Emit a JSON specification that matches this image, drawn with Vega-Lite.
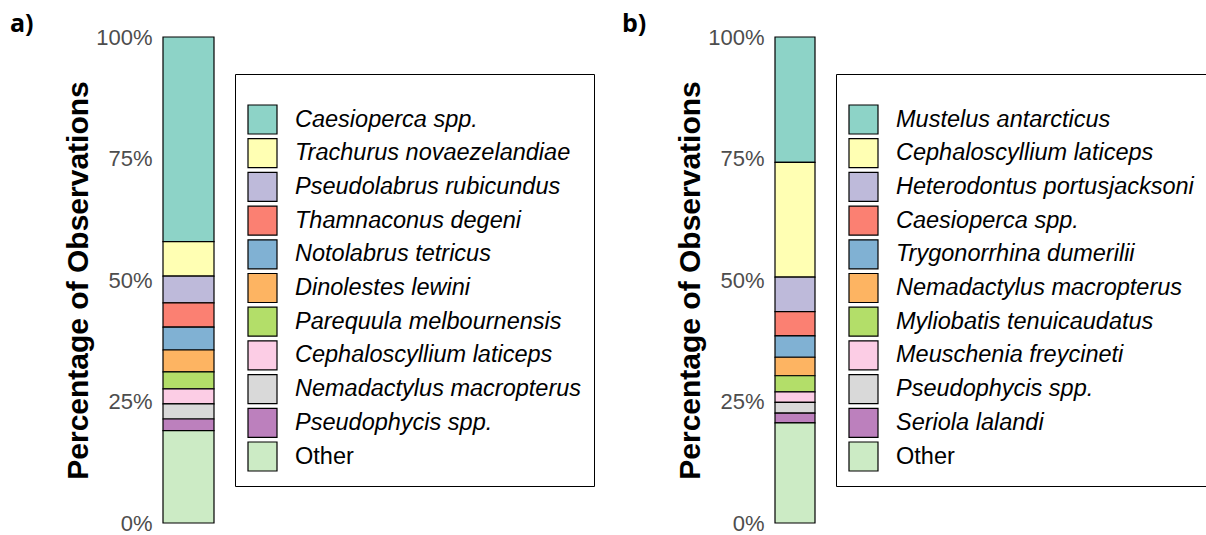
{
  "$schema": "https://vega.github.io/schema/vega-lite/v6.json",
  "padding": {"left": 10, "top": 12, "right": 0, "bottom": 0},
  "autosize": {"type": "pad"},
  "bounds": "flush",
  "spacing": 561,
  "config": {"view": {"stroke": null}, "font": "Liberation Sans"},
  "data": {"values": [
    {"panel": "a", "species": "Caesioperca spp.", "rank": 1, "pct": 42.1},
    {"panel": "a", "species": "Trachurus novaezelandiae", "rank": 2, "pct": 7.1},
    {"panel": "a", "species": "Pseudolabrus rubicundus", "rank": 3, "pct": 5.5},
    {"panel": "a", "species": "Thamnaconus degeni", "rank": 4, "pct": 5.0},
    {"panel": "a", "species": "Notolabrus tetricus", "rank": 5, "pct": 4.7},
    {"panel": "a", "species": "Dinolestes lewini", "rank": 6, "pct": 4.5},
    {"panel": "a", "species": "Parequula melbournensis", "rank": 7, "pct": 3.5},
    {"panel": "a", "species": "Cephaloscyllium laticeps", "rank": 8, "pct": 3.1},
    {"panel": "a", "species": "Nemadactylus macropterus", "rank": 9, "pct": 3.1},
    {"panel": "a", "species": "Pseudophycis spp.", "rank": 10, "pct": 2.4},
    {"panel": "a", "species": "Other", "rank": 11, "pct": 19.0},
    {"panel": "b", "species": "Mustelus antarcticus", "rank": 1, "pct": 25.8},
    {"panel": "b", "species": "Cephaloscyllium laticeps", "rank": 2, "pct": 23.6},
    {"panel": "b", "species": "Heterodontus portusjacksoni", "rank": 3, "pct": 7.1},
    {"panel": "b", "species": "Caesioperca spp.", "rank": 4, "pct": 5.0},
    {"panel": "b", "species": "Trygonorrhina dumerilii", "rank": 5, "pct": 4.4},
    {"panel": "b", "species": "Nemadactylus macropterus", "rank": 6, "pct": 3.8},
    {"panel": "b", "species": "Myliobatis tenuicaudatus", "rank": 7, "pct": 3.3},
    {"panel": "b", "species": "Meuschenia freycineti", "rank": 8, "pct": 2.2},
    {"panel": "b", "species": "Pseudophycis spp.", "rank": 9, "pct": 2.2},
    {"panel": "b", "species": "Seriola lalandi", "rank": 10, "pct": 2.0},
    {"panel": "b", "species": "Other", "rank": 11, "pct": 20.6}
  ]},
  "hconcat": [
    {
      "width": 51,
      "height": 486,
      "title": {"text": "a)", "anchor": "start", "frame": "group", "dx": -153, "offset": -11, "fontSize": 25, "fontWeight": "bold", "font": "Open Sans", "color": "black"},
      "transform": [{"filter": "datum.panel == 'a'"}],
      "mark": {"type": "bar", "stroke": "black", "strokeWidth": 1.2},
      "encoding": {
        "x": {"field": "panel", "type": "nominal", "axis": null, "scale": {"paddingInner": 0, "paddingOuter": 0}},
        "y": {"field": "pct", "type": "quantitative", "stack": "zero", "scale": {"domain": [0, 100], "nice": false},
          "axis": {"values": [0, 25, 50, 75, 100], "labelExpr": "datum.value + '%'", "domain": false, "ticks": false, "grid": false,
            "labelFontSize": 22, "labelColor": "#4d4d4d", "labelPadding": 11, "labelFont": "Liberation Sans",
            "title": "Percentage of Observations", "titleFontSize": 30, "titleFontWeight": "bold", "titleColor": "black", "titlePadding": 2, "titleFont": "Liberation Sans"}},
        "color": {"field": "species", "type": "nominal",
          "scale": {"domain": ["Caesioperca spp.", "Trachurus novaezelandiae", "Pseudolabrus rubicundus", "Thamnaconus degeni", "Notolabrus tetricus", "Dinolestes lewini", "Parequula melbournensis", "Cephaloscyllium laticeps", "Nemadactylus macropterus", "Pseudophycis spp.", "Other"],
            "range": ["#8DD3C7", "#FFFFB3", "#BEBADA", "#FB8072", "#80B1D3", "#FDB462", "#B3DE69", "#FCCDE5", "#D9D9D9", "#BC80BD", "#CCEBC5"]},
          "legend": {"orient": "none", "legendX": 72, "legendY": 37, "title": " ", "titleFontSize": 12, "titlePadding": 6, "padding": 12,
            "strokeColor": "black", "symbolType": "square", "symbolSize": 841, "symbolStrokeColor": "black", "symbolStrokeWidth": 1.2, "symbolOpacity": 1,
            "rowPadding": -1.3, "labelOffset": 17, "labelFontSize": 23.5, "labelColor": "black", "labelFont": "Liberation Sans",
            "labelFontStyle": {"expr": "datum.label == 'Other' ? 'normal' : 'italic'"}, "labelLimit": 400}},
        "order": {"field": "rank", "sort": "descending"}
      }
    },
    {
      "width": 40,
      "height": 486,
      "title": {"text": "b)", "anchor": "start", "frame": "group", "dx": -153, "offset": -11, "fontSize": 25, "fontWeight": "bold", "font": "Open Sans", "color": "black"},
      "transform": [{"filter": "datum.panel == 'b'"}],
      "mark": {"type": "bar", "stroke": "black", "strokeWidth": 1.2},
      "encoding": {
        "x": {"field": "panel", "type": "nominal", "axis": null, "scale": {"paddingInner": 0, "paddingOuter": 0}},
        "y": {"field": "pct", "type": "quantitative", "stack": "zero", "scale": {"domain": [0, 100], "nice": false},
          "axis": {"values": [0, 25, 50, 75, 100], "labelExpr": "datum.value + '%'", "domain": false, "ticks": false, "grid": false,
            "labelFontSize": 22, "labelColor": "#4d4d4d", "labelPadding": 11, "labelFont": "Liberation Sans",
            "title": "Percentage of Observations", "titleFontSize": 30, "titleFontWeight": "bold", "titleColor": "black", "titlePadding": 2, "titleFont": "Liberation Sans"}},
        "color": {"field": "species", "type": "nominal",
          "scale": {"domain": ["Mustelus antarcticus", "Cephaloscyllium laticeps", "Heterodontus portusjacksoni", "Caesioperca spp.", "Trygonorrhina dumerilii", "Nemadactylus macropterus", "Myliobatis tenuicaudatus", "Meuschenia freycineti", "Pseudophycis spp.", "Seriola lalandi", "Other"],
            "range": ["#8DD3C7", "#FFFFB3", "#BEBADA", "#FB8072", "#80B1D3", "#FDB462", "#B3DE69", "#FCCDE5", "#D9D9D9", "#BC80BD", "#CCEBC5"]},
          "legend": {"orient": "none", "legendX": 61, "legendY": 37, "title": " ", "titleFontSize": 12, "titlePadding": 6, "padding": 12,
            "strokeColor": "black", "symbolType": "square", "symbolSize": 841, "symbolStrokeColor": "black", "symbolStrokeWidth": 1.2, "symbolOpacity": 1,
            "rowPadding": -1.3, "labelOffset": 17, "labelFontSize": 23.5, "labelColor": "black", "labelFont": "Liberation Sans",
            "labelFontStyle": {"expr": "datum.label == 'Other' ? 'normal' : 'italic'"}, "labelLimit": 400}},
        "order": {"field": "rank", "sort": "descending"}
      }
    }
  ],
  "resolve": {"scale": {"color": "independent", "y": "independent"}}
}
